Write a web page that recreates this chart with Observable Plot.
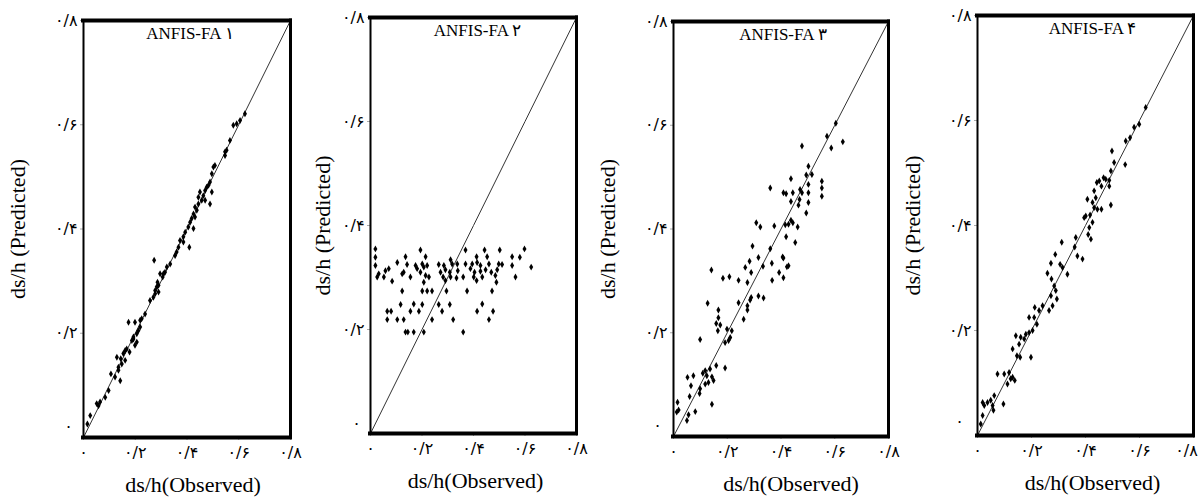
<!DOCTYPE html>
<html><head><meta charset="utf-8">
<script src="https://cdn.jsdelivr.net/npm/d3@7"></script>
<script src="https://cdn.jsdelivr.net/npm/@observablehq/plot@0.6"></script>
<style>
body{margin:0;background:#fff;}
#wrap{position:relative;width:1200px;height:497px;overflow:hidden;background:#fff;}
#wrap > svg{position:absolute;top:0;}
</style></head><body><div id="wrap"></div>
<script>
// ---- data ----
const tickValues = [0, 0.2, 0.4, 0.6, 0.8];
const tickLabels = ["۰", "۰/۲", "۰/۴", "۰/۶", "۰/۸"];
const titles = ["ANFIS-FA ۱", "ANFIS-FA ۲", "ANFIS-FA ۳", "ANFIS-FA ۴"];
const xLabel = "ds/h(Observed)";
const yLabel = "ds/h (Predicted)";

// [observed, predicted]
const panel1 = [[0.015,0.026],[0.026,0.042],[0.051,0.065],[0.058,0.061],[0.064,0.068],[0.084,0.077],[0.097,0.090],[0.106,0.122],[0.122,0.116],[0.135,0.129],[0.142,0.109],[0.129,0.154],[0.144,0.151],[0.154,0.161],[0.161,0.148],[0.167,0.170],[0.178,0.164],[0.187,0.186],[0.193,0.193],[0.199,0.177],[0.206,0.199],[0.212,0.205],[0.219,0.212],[0.174,0.221],[0.199,0.221],[0.225,0.228],[0.238,0.237],[0.257,0.263],[0.270,0.269],[0.277,0.282],[0.283,0.289],[0.290,0.279],[0.296,0.314],[0.306,0.308],[0.315,0.317],[0.322,0.327],[0.335,0.333],[0.273,0.340],[0.354,0.349],[0.360,0.356],[0.367,0.365],[0.373,0.378],[0.386,0.385],[0.393,0.394],[0.405,0.404],[0.412,0.413],[0.418,0.420],[0.425,0.401],[0.409,0.365],[0.425,0.429],[0.431,0.442],[0.438,0.436],[0.444,0.461],[0.450,0.471],[0.457,0.455],[0.463,0.464],[0.470,0.474],[0.476,0.480],[0.483,0.484],[0.489,0.490],[0.496,0.471],[0.489,0.448],[0.496,0.506],[0.502,0.519],[0.508,0.522],[0.547,0.541],[0.553,0.551],[0.566,0.570],[0.579,0.599],[0.592,0.602],[0.605,0.608],[0.624,0.621],[0.135,0.135],[0.148,0.141],[0.161,0.167],[0.193,0.189],[0.206,0.183],[0.219,0.225],[0.277,0.276],[0.286,0.298],[0.309,0.314],[0.431,0.423],[0.444,0.448],[0.470,0.455],[0.547,0.548],[0.386,0.375],[0.290,0.292]];

const panel2 = [[0.019,0.355],[0.194,0.353],[0.369,0.353],[0.443,0.353],[0.502,0.353],[0.598,0.355],[0.019,0.339],[0.136,0.340],[0.214,0.340],[0.311,0.334],[0.412,0.340],[0.453,0.340],[0.550,0.340],[0.580,0.339],[0.019,0.323],[0.104,0.329],[0.142,0.325],[0.175,0.323],[0.201,0.326],[0.220,0.323],[0.265,0.325],[0.285,0.323],[0.317,0.326],[0.337,0.326],[0.369,0.326],[0.395,0.326],[0.414,0.329],[0.427,0.323],[0.460,0.326],[0.498,0.326],[0.511,0.325],[0.550,0.323],[0.624,0.320],[0.032,0.307],[0.058,0.313],[0.071,0.317],[0.129,0.310],[0.181,0.317],[0.194,0.310],[0.207,0.320],[0.272,0.310],[0.291,0.315],[0.308,0.310],[0.339,0.313],[0.388,0.317],[0.404,0.310],[0.427,0.312],[0.447,0.315],[0.469,0.310],[0.492,0.315],[0.026,0.301],[0.052,0.301],[0.084,0.293],[0.123,0.307],[0.155,0.301],[0.214,0.304],[0.227,0.301],[0.207,0.291],[0.282,0.301],[0.291,0.294],[0.311,0.301],[0.334,0.299],[0.360,0.301],[0.401,0.301],[0.412,0.294],[0.434,0.301],[0.485,0.304],[0.489,0.291],[0.563,0.301],[0.123,0.274],[0.201,0.274],[0.220,0.274],[0.239,0.274],[0.295,0.274],[0.375,0.274],[0.472,0.274],[0.117,0.248],[0.168,0.249],[0.201,0.248],[0.265,0.248],[0.308,0.248],[0.434,0.249],[0.065,0.235],[0.080,0.235],[0.155,0.235],[0.188,0.235],[0.278,0.235],[0.414,0.235],[0.476,0.235],[0.065,0.219],[0.104,0.219],[0.129,0.219],[0.239,0.219],[0.321,0.219],[0.460,0.219],[0.136,0.195],[0.145,0.195],[0.168,0.195],[0.207,0.195],[0.360,0.195]];

const panel3 = [[0.604,0.604],[0.571,0.579],[0.630,0.568],[0.587,0.556],[0.478,0.560],[0.502,0.521],[0.515,0.505],[0.494,0.504],[0.437,0.497],[0.502,0.486],[0.552,0.492],[0.552,0.479],[0.552,0.463],[0.471,0.476],[0.478,0.470],[0.502,0.470],[0.360,0.479],[0.409,0.470],[0.419,0.468],[0.444,0.470],[0.469,0.457],[0.437,0.453],[0.465,0.446],[0.502,0.451],[0.494,0.431],[0.308,0.412],[0.323,0.404],[0.375,0.406],[0.416,0.408],[0.428,0.409],[0.437,0.417],[0.444,0.412],[0.462,0.404],[0.419,0.385],[0.453,0.374],[0.294,0.367],[0.360,0.362],[0.283,0.338],[0.316,0.345],[0.406,0.346],[0.409,0.344],[0.422,0.327],[0.428,0.329],[0.267,0.326],[0.289,0.316],[0.333,0.328],[0.366,0.334],[0.393,0.316],[0.409,0.306],[0.367,0.301],[0.184,0.305],[0.208,0.308],[0.242,0.301],[0.275,0.297],[0.141,0.321],[0.127,0.257],[0.242,0.258],[0.289,0.268],[0.285,0.263],[0.316,0.271],[0.335,0.267],[0.275,0.252],[0.275,0.244],[0.261,0.226],[0.167,0.244],[0.167,0.229],[0.159,0.218],[0.174,0.215],[0.165,0.204],[0.199,0.207],[0.217,0.204],[0.211,0.191],[0.192,0.181],[0.205,0.185],[0.099,0.187],[0.159,0.137],[0.192,0.132],[0.136,0.130],[0.118,0.127],[0.109,0.122],[0.124,0.117],[0.143,0.115],[0.149,0.108],[0.130,0.104],[0.118,0.101],[0.074,0.117],[0.052,0.114],[0.065,0.098],[0.099,0.092],[0.097,0.083],[0.060,0.077],[0.143,0.062],[0.015,0.066],[0.019,0.051],[0.012,0.047],[0.081,0.048],[0.056,0.042],[0.050,0.031]];

const panel4 = [[0.623,0.625],[0.599,0.593],[0.580,0.587],[0.565,0.567],[0.549,0.561],[0.547,0.516],[0.498,0.542],[0.506,0.520],[0.494,0.504],[0.488,0.486],[0.475,0.488],[0.467,0.491],[0.451,0.485],[0.442,0.482],[0.459,0.475],[0.488,0.475],[0.494,0.439],[0.432,0.466],[0.438,0.453],[0.407,0.450],[0.426,0.444],[0.444,0.431],[0.459,0.431],[0.432,0.434],[0.401,0.418],[0.417,0.420],[0.395,0.415],[0.414,0.396],[0.426,0.406],[0.410,0.383],[0.420,0.374],[0.364,0.377],[0.360,0.359],[0.370,0.342],[0.389,0.336],[0.312,0.368],[0.288,0.345],[0.272,0.328],[0.306,0.326],[0.315,0.320],[0.333,0.307],[0.259,0.309],[0.274,0.298],[0.284,0.285],[0.290,0.276],[0.294,0.260],[0.272,0.266],[0.278,0.247],[0.265,0.238],[0.241,0.247],[0.228,0.238],[0.212,0.244],[0.191,0.225],[0.210,0.225],[0.220,0.212],[0.204,0.200],[0.191,0.196],[0.179,0.193],[0.173,0.184],[0.160,0.187],[0.142,0.190],[0.154,0.174],[0.130,0.165],[0.146,0.152],[0.158,0.149],[0.198,0.149],[0.074,0.117],[0.099,0.117],[0.117,0.120],[0.123,0.108],[0.130,0.111],[0.138,0.105],[0.111,0.098],[0.062,0.076],[0.049,0.067],[0.056,0.057],[0.037,0.063],[0.019,0.063],[0.025,0.057],[0.059,0.048],[0.096,0.060],[0.012,0.022],[0.019,0.038]];

const panels = [panel1, panel2, panel3, panel4];

// ---- layout (positions / styles) ----
const layout = [
  {left: 0,   ml: 83, mr: 10, mt: 20, mb: 60, ydx: -66, tdx: 3, xdx: 6, zdx: -15, zdy: -6, lastDx: 0},
  {left: 300, ml: 70, mr: 24, mt: 17, mb: 64, ydx: -48, tdx: 4, xdx: 2, zdx: -14, zdy: -5, lastDx: 0},
  {left: 600, ml: 73, mr: 12, mt: 21, mb: 61, ydx: -66, tdx: 2, xdx: 10, zdx: -16, zdy: -6, lastDx: 0},
  {left: 900, ml: 77, mr: 7,  mt: 15, mb: 62, ydx: -65, tdx: 7, xdx: 7, zdx: -18, zdy: -9, lastDx: -7}
];
const serif = "'Liberation Serif', 'Times New Roman', serif";
const digitFont = "'DejaVu Sans', sans-serif";
const dMax = tickValues[tickValues.length - 1];
const fmt = d => tickLabels[tickValues.indexOf(d)];

const wrap = document.getElementById("wrap");
panels.forEach((data, i) => {
  const c = layout[i];
  const chart = Plot.plot({
    width: 300, height: 497,
    marginLeft: c.ml, marginRight: c.mr, marginTop: c.mt, marginBottom: c.mb,
    x: {domain: [0, dMax]},
    y: {domain: [0, dMax]},
    style: {background: "transparent", overflow: "visible", color: "#000", fontSize: "16px"},
    marks: [
      Plot.axisX({ticks: tickValues, tickFormat: () => "", tickSize: 3, stroke: "#aaa", label: null}),
      Plot.axisX({ticks: tickValues.slice(0, -1), tickFormat: fmt, tickSize: 0, tickPadding: 9, fill: "#000", label: null}),
      Plot.text([dMax], {x: d => d, text: fmt, frameAnchor: "bottom", lineAnchor: "top", dy: 9, dx: c.lastDx}),
      Plot.axisY({ticks: tickValues.slice(1), tickFormat: fmt, tickSize: 3, tickPadding: 3, stroke: "#aaa", fill: "#000", label: null}),
      Plot.text([tickLabels[0]], {text: d => d, frameAnchor: "bottom-left", dx: c.zdx, dy: c.zdy, textAnchor: "middle"}),
      Plot.line(tickValues, {x: d => d, y: d => d, stroke: "#333", strokeWidth: 1}),
      Plot.dot(data, {x: d => d[0], y: d => d[1], symbol: "diamond", r: 2.1, fill: "#000", stroke: "none"}),
      Plot.ruleX([0], {stroke: "#000", strokeWidth: 2, strokeLinecap: "square"}),
      Plot.ruleX([dMax], {stroke: "#000", strokeWidth: 3, strokeLinecap: "square"}),
      Plot.ruleY([0], {stroke: "#000", strokeWidth: 4, strokeLinecap: "square"}),
      Plot.ruleY([dMax], {stroke: "#000", strokeWidth: 4, strokeLinecap: "square"}),
      Plot.text([titles[i]], {text: d => d, frameAnchor: "top", lineAnchor: "top", dy: 6, dx: c.tdx, fontSize: 17}),
      Plot.text([yLabel], {text: d => d, frameAnchor: "left", textAnchor: "middle", rotate: -90, dx: c.ydx, fontSize: 22}),
      Plot.text([xLabel], {text: d => d, frameAnchor: "bottom", lineAnchor: "bottom", dy: 54, dx: c.xdx, fontSize: 22})
    ]
  });
  chart.style.left = c.left + "px";
  chart.querySelectorAll("text").forEach(t => {
    const s = t.textContent;
    const f = tickLabels.includes(s) ? digitFont : serif;
    t.setAttribute("font-family", f);
    t.style.setProperty("font-family", f, "important");
    t.style.fontWeight = "normal";
  });
  wrap.appendChild(chart);
});
</script></body></html>
